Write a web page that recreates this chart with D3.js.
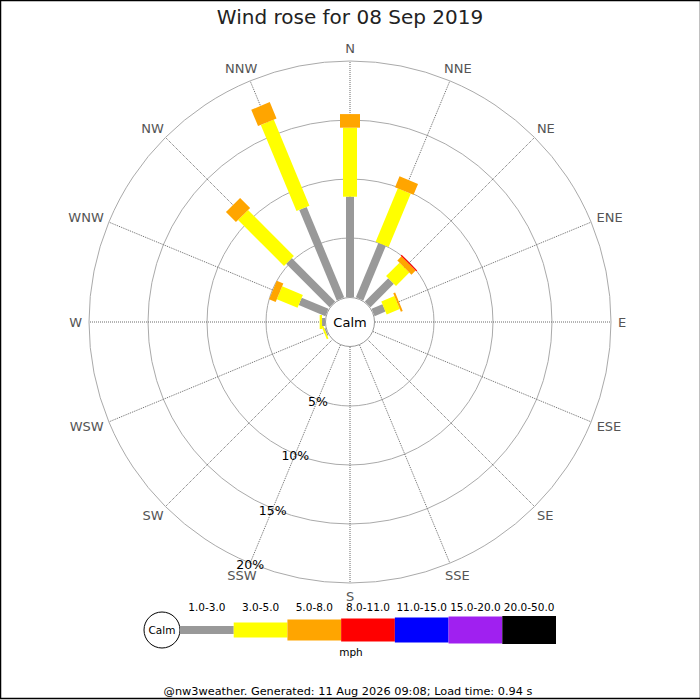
<!DOCTYPE html>
<html>
<head>
<meta charset="utf-8">
<script src="https://cdn.jsdelivr.net/npm/d3@7"></script>
<style>
  body { margin: 0; background: #fff; }
  svg { display: block; font-family: "DejaVu Sans", sans-serif; }
</style>
</head>
<body>
<svg id="rose" width="700" height="700"></svg>
<script>
// directions, clockwise from north
const directions = ['N', 'NNE', 'NE', 'ENE', 'E', 'ESE', 'SE', 'SSE',
                    'S', 'SSW', 'SW', 'WSW', 'W', 'WNW', 'NW', 'NNW'];
const speedBins = ['1.0-3.0', '3.0-5.0', '5.0-8.0', '8.0-11.0', '11.0-15.0', '15.0-20.0', '20.0-50.0'];
const binColours = ['#999999', '#ffff00', '#ffa500', '#ff0000', '#0000ff', '#a020f0', '#000000'];
// % of time per direction for each speed bin (mph)
const pct1to3   = [8.5, 5.0, 2.8, 1.0, 0, 0, 0, 0, 0, 0, 0, 0.1, 0.25, 2.45, 5.2, 8.3];
const pct3to5   = [5.85, 4.9, 1.6, 1.2, 0, 0, 0, 0, 0, 0, 0, 0.15, 0.2, 1.9, 5.5, 7.9];
const pct5to8   = [1.15, 1.0, 0.5, 0.17, 0, 0, 0, 0, 0, 0, 0, 0, 0, 0.6, 1.2, 1.5];
const pct8to11  = [0, 0, 0.1, 0, 0, 0, 0, 0, 0, 0, 0, 0, 0, 0, 0, 0];
const pct11to15 = [0, 0, 0, 0, 0, 0, 0, 0, 0, 0, 0, 0, 0, 0, 0, 0];
const pct15to20 = [0, 0, 0, 0, 0, 0, 0, 0, 0, 0, 0, 0, 0, 0, 0, 0];
const pct20to50 = [0, 0, 0, 0, 0, 0, 0, 0, 0, 0, 0, 0, 0, 0, 0, 0];
const ringTicks = [5, 10, 15, 20];

const series = [pct1to3, pct3to5, pct5to8, pct8to11, pct11to15, pct15to20, pct20to50];
const barWidths = [8, 14, 20, 22, 24, 26, 28];
const legendHeights = [8, 15, 21, 23, 25, 27, 28];

const cx = 350, cy = 322, calmR = 25;
const svg = d3.select('#rose');

svg.append('rect')
    .attr('x', 0.5).attr('y', 0.5)
    .attr('width', 700).attr('height', 698)
    .attr('fill', 'none').attr('stroke', 'black').attr('stroke-width', 1.5);

svg.append('text')
    .attr('x', 350).attr('y', 24)
    .attr('text-anchor', 'middle')
    .attr('font-size', '20px')
    .attr('fill', '#222')
    .text('Wind rose for 08 Sep 2019');

var r = d3.scaleLinear().domain([0, 20]).range([calmR, 261]);
var angle = d3.scaleBand().domain(directions).range([0, 360]);

var g = svg.append('g').attr('transform', 'translate(' + cx + ',' + cy + ')');

// rings
g.selectAll('.ring')
    .data(ringTicks)
    .enter()
    .append('circle')
    .attr('r', d => r(d))
    .attr('fill', 'none')
    .attr('stroke', '#aaa')
    .attr('stroke-width', 1);

// spokes
g.selectAll('.spoke')
    .data(directions)
    .enter()
    .append('line')
    .attr('x1', d => calmR * Math.sin(angle(d) * Math.PI / 180))
    .attr('y1', d => -calmR * Math.cos(angle(d) * Math.PI / 180))
    .attr('x2', d => r(20) * Math.sin(angle(d) * Math.PI / 180))
    .attr('y2', d => -r(20) * Math.cos(angle(d) * Math.PI / 180))
    .attr('stroke', '#444')
    .attr('stroke-width', 0.8)
    .attr('stroke-dasharray', '1,1');

// direction labels
g.selectAll('.dirlabel')
    .data(directions)
    .enter()
    .append('text')
    .attr('text-anchor', 'middle')
    .attr('dominant-baseline', 'central')
    .attr('font-size', '13px')
    .attr('fill', '#555')
    .text(d => d)
    .each(function (d) {
        var a = angle(d) * Math.PI / 180;
        var w = this.getComputedTextLength();
        d3.select(this)
            .attr('x', 268 * Math.sin(a) + Math.sin(a) * w / 2)
            .attr('y', -268 * Math.cos(a) - Math.cos(a) * 6);
    });

// bars
var stacks = directions.map(function (d, i) {
    var base = 0;
    return series.map(function (s, k) {
        var seg = { dir: d, bin: k, r0: base, r1: base + s[i] };
        base += s[i];
        return seg;
    }).filter(seg => seg.r1 > seg.r0);
});

g.selectAll('.dir')
    .data(stacks)
    .enter()
    .append('g')
    .attr('transform', (d, i) => 'rotate(' + angle(directions[i]) + ')')
    .selectAll('rect')
    .data(d => d)
    .enter()
    .append('rect')
    .attr('x', d => -barWidths[d.bin] / 2)
    .attr('y', d => -r(d.r1))
    .attr('width', d => barWidths[d.bin])
    .attr('height', d => r(d.r1) - r(d.r0))
    .attr('fill', d => binColours[d.bin]);

// calm circle
g.append('circle')
    .attr('r', calmR - 0.5)
    .attr('fill', 'white')
    .attr('stroke', '#999');

g.append('text')
    .attr('text-anchor', 'middle')
    .attr('dominant-baseline', 'central')
    .attr('font-size', '13px')
    .attr('fill', 'black')
    .text('Calm');

// ring labels along SSW
var ssw = angle('SSW') * Math.PI / 180;
g.selectAll('.ringlabel')
    .data(ringTicks)
    .enter()
    .append('text')
    .attr('x', d => r(d) * Math.sin(ssw))
    .attr('y', d => -r(d) * Math.cos(ssw) + 1.5)
    .attr('text-anchor', 'middle')
    .attr('dominant-baseline', 'central')
    .attr('font-size', '12.5px')
    .attr('fill', 'black')
    .text(d => d + '%');

// legend
var lx = d3.scaleBand().domain(speedBins).range([180, 556]);
var legend = svg.append('g');

legend.append('circle')
    .attr('cx', 162).attr('cy', 630).attr('r', 18)
    .attr('fill', 'white').attr('stroke', 'black');
legend.append('text')
    .attr('x', 162).attr('y', 630)
    .attr('text-anchor', 'middle')
    .attr('dominant-baseline', 'central')
    .attr('font-size', '10.5px')
    .text('Calm');

legend.selectAll('.key')
    .data(speedBins)
    .enter()
    .append('rect')
    .attr('x', d => lx(d))
    .attr('y', (d, i) => 630 - legendHeights[i] / 2)
    .attr('width', lx.bandwidth())
    .attr('height', (d, i) => legendHeights[i])
    .attr('fill', (d, i) => binColours[i]);

legend.selectAll('.keylabel')
    .data(speedBins)
    .enter()
    .append('text')
    .attr('x', d => lx(d) + lx.bandwidth() / 2)
    .attr('y', 611)
    .attr('text-anchor', 'middle')
    .attr('font-size', '10.5px')
    .attr('fill', 'black')
    .text(d => d);

legend.append('text')
    .attr('x', 351).attr('y', 656)
    .attr('text-anchor', 'middle')
    .attr('font-size', '10.5px')
    .text('mph');

svg.append('text')
    .attr('x', 348).attr('y', 695)
    .attr('text-anchor', 'middle')
    .attr('font-size', '11.3px')
    .attr('fill', 'black')
    .text('@nw3weather. Generated: 11 Aug 2026 09:08; Load time: 0.94 s');
</script>
</body>
</html>
